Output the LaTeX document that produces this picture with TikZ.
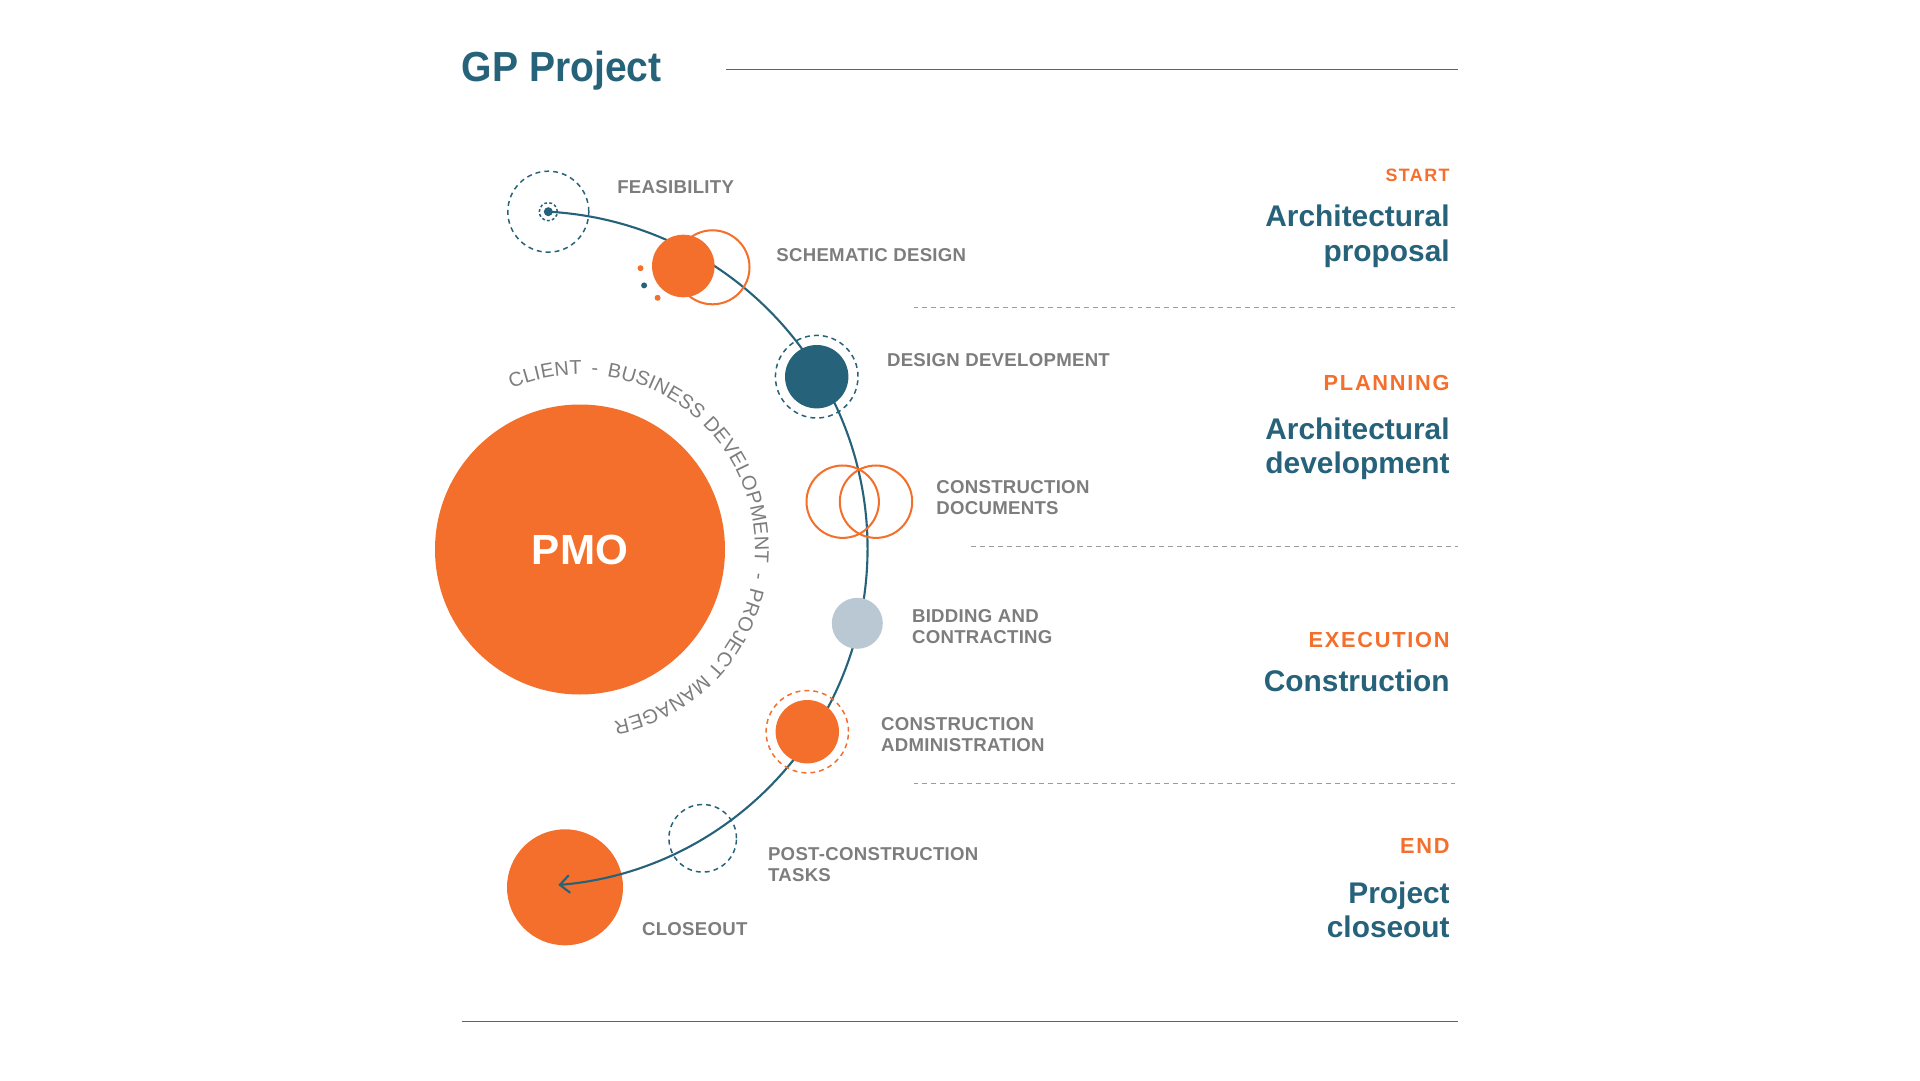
\documentclass[tikz,border=0pt]{standalone}
\usepackage{fontspec}
\setmainfont{Liberation Sans}
\usepackage{tikz}
\usetikzlibrary{positioning, arrows.meta, decorations.text}

\definecolor{gporange}{HTML}{F36F2B}
\definecolor{gpteal}{HTML}{26627A}
\definecolor{gpgrey}{HTML}{7D7D7D}
\definecolor{gpmist}{HTML}{B9C8D2}
\definecolor{gpdash}{HTML}{9B9B9B}
\definecolor{gpline}{HTML}{3E6F82}

\newdimen\pxu \pxu=0.02cm
\newfontfamily\titlefont[FakeStretch=0.93]{Liberation Sans}
\newfontfamily\stepfont[LetterSpace=1.5]{Liberation Sans}
\newfontfamily\phasefont[LetterSpace=8]{Liberation Sans}

\begin{document}
\begin{tikzpicture}[
        x=0.02cm, y=0.02cm,
        >={Straight Barb[length=5.5pt, width=10pt]}, % open arrowhead
        disc/.style={circle, inner sep=0pt, minimum size=2*#1*\pxu},
        halo/.style={circle, draw=gpteal, line width=0.85pt, dash pattern=on 2.8pt off 2.3pt, inner sep=0pt, minimum size=2*#1*\pxu},
        hoop/.style={circle, draw=gporange, line width=1.15pt, inner sep=0pt, minimum size=2*#1*\pxu},
        steplabel/.style={anchor=west, align=left, inner sep=0pt, text=gpgrey, font=\stepfont\bfseries\fontsize{10.6}{12}\selectfont},
        phaselabel/.style={anchor=east, inner sep=0pt, text=gporange, font=\phasefont\bfseries\fontsize{12.4}{14}\selectfont},
        stagelabel/.style={anchor=north east, align=right, inner sep=0pt, text=gpteal, font=\bfseries\fontsize{17}{19.4}\selectfont},
        divider/.style={gpdash, line width=0.6pt, dash pattern=on 2.8pt off 2.3pt},
        flow/.style={->, gpteal, line width=1.2pt}
    ]
    \useasboundingbox (0,0) rectangle (1920,1080);

    % ==========================================
    % Title and rules
    % ==========================================
    \node[anchor=base west, inner sep=0pt, text=gpteal, font=\titlefont\bfseries\fontsize{23.9}{28}\selectfont] (title) at (461.6, 998) {GP Project};
    \draw[gpline, line width=0.8pt] (726, 1010.2) -- (1458, 1010.2);
    \draw[gpline, line width=0.8pt] (461.6, 58.8) -- (1458.4, 58.8);

    % ==========================================
    % PMO and its ring of roles
    % ==========================================
    \node[disc=145, fill=gporange, text=white, font=\bfseries\fontsize{24}{28}\selectfont] (pmo) at (580, 530.5) {PMO};
    \path[decorate, decoration={text along path, text color=gpgrey, text align={fit to path},
        text={|\fontsize{11.4}{13}\selectfont|CLIENT{\hspace{0.45em}-\hspace{0.45em}}BUSINESS DEVELOPMENT{\hspace{0.45em}-\hspace{0.45em}}PROJECT MANAGER}}]
        ([shift={(113:175)}]pmo.center) arc[start angle=113, end angle=-79, radius=175];

    % ==========================================
    % Stages (behind the flow line)
    % ==========================================
    \node[disc=4.5, fill=gpteal] (feas) at (548.3, 868.3) {};
    \node[halo=9, dash pattern=on 1.6pt off 1.3pt] (feasin) at (feas) {};
    \node[halo=40.5] (feasout) at (feas) {};
    \node[disc=58, fill=gporange] (close) at (565, 192.7) {};

    % Flow from feasibility to closeout
    \draw[flow] (feas.center) arc[start angle=86.9, end angle=-85.2, radius=337.5];

    % ==========================================
    % Stages (over the flow line)
    % ==========================================
    \node[hoop=37] (schemring) at (712.5, 812.7) {};
    \node[disc=31.3, fill=gporange] (schem) at (683.3, 814) {};
    \node[disc=3, fill=gporange] (sparkA) at (640.5, 811.8) {};
    \node[disc=3, fill=gpteal] (sparkB) at (644.1, 794.6) {};
    \node[disc=3, fill=gporange] (sparkC) at (657.6, 782.2) {};

    \node[disc=31.7, fill=gpteal] (design) at (816.7, 703.3) {};
    \node[halo=41.3] (designring) at (design) {};

    \node[hoop=36.2] (docsA) at (842.7, 578.3) {};
    \node[hoop=36.2] (docsB) at (876, 578.3) {};

    \node[disc=25.5, fill=gpmist] (bid) at (857.3, 456.7) {};

    \node[disc=31.7, fill=gporange] (admin) at (807.3, 348.3) {};
    \node[halo=41.2, draw=gporange] (adminring) at (admin) {};

    \node[halo=33.8] (post) at (702.7, 241.7) {};

    % ==========================================
    % Stage labels
    % ==========================================
    \node[steplabel] (feaslbl) at (617, 893) {FEASIBILITY};
    \node[steplabel] (schemlbl) at (776, 824.5) {SCHEMATIC DESIGN};
    \node[steplabel] (designlbl) at (886.7, 719.5) {DESIGN DEVELOPMENT};
    \node[steplabel] (docslbl) at (936, 582.8) {CONSTRUCTION\\DOCUMENTS};
    \node[steplabel] (bidlbl) at (911.7, 453) {BIDDING AND\\CONTRACTING};
    \node[steplabel] (adminlbl) at (880.7, 345) {CONSTRUCTION\\ADMINISTRATION};
    \node[steplabel] (postlbl) at (767.7, 215.8) {POST-CONSTRUCTION\\TASKS};
    \node[steplabel] (closelbl) at (641.7, 150.7) {CLOSEOUT};

    % ==========================================
    % Phases
    % ==========================================
    \node[phaselabel, font=\phasefont\bfseries\fontsize{10.2}{12}\selectfont] (start) at (1450, 905) {START};
    \node[stagelabel] (proposal) at (1450, 875) {Architectural\\proposal};
    \draw[divider] (913.5, 772.7) -- (1454.7, 772.7);

    \node[phaselabel] (planning) at (1450, 696.7) {PLANNING};
    \node[stagelabel] (develop) at (1450, 662.5) {Architectural\\development};
    \draw[divider] (971, 533.9) -- (1458, 533.9);

    \node[phaselabel] (execution) at (1450, 439.6) {EXECUTION};
    \node[stagelabel] (build) at (1450, 410) {Construction};
    \draw[divider] (913.5, 296.3) -- (1454.7, 296.3);

    \node[phaselabel] (finish) at (1450, 233.9) {END};
    \node[stagelabel] (wrapup) at (1450, 198.3) {Project\\closeout};

\end{tikzpicture}
\end{document}
